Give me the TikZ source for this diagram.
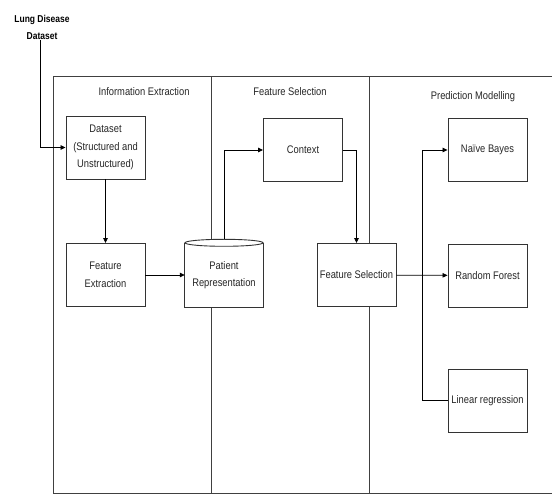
\documentclass[tikz,border=0pt]{standalone}
\usepackage{fontspec}
\setmainfont{Liberation Sans}
\newfontfamily\diagfont[FakeStretch=0.85]{Liberation Sans}
\usetikzlibrary{shapes.geometric,arrows.meta,positioning,calc}

\begin{document}
\begin{tikzpicture}[x=1pt,y=-1pt,
        box/.style={draw=black!80, fill=white, line width=0.9pt,
          minimum width=79pt, minimum height=63pt, inner sep=1pt,
          align=center, text=black!85,
          font=\diagfont\fontsize{11}{17.5}\selectfont},
        store/.style={fill=white, minimum width=78pt, minimum height=64pt,
          inner sep=1pt, align=center, text=black!85,
          font=\diagfont\fontsize{11}{17.5}\selectfont},
        outline/.style={draw=black!80, line width=0.9pt},
        lane/.style={text=black!85, inner sep=1pt,
          font=\diagfont\fontsize{11}{12}\selectfont},
        frame/.style={draw=black!75, line width=1pt},
        arr/.style={-{Triangle[length=5pt,width=4.5pt]}, line width=0.8pt},
        ln/.style={line width=0.8pt}
      ]
        \useasboundingbox (0,0) rectangle (552,494);

        % swim lanes
        \draw[frame] (552,77) -- (53,77) -- (53,493) -- (552,493);
        \draw[frame] (211,77) -- (211,493);
        \draw[frame] (369,77) -- (369,493);
        \node[lane] (laneie) at (144,92) {Information Extraction};
        \node[lane] (lanefs) at (290,92) {Feature Selection};
        \node[lane] (lanepm) at (473,97) {Prediction Modelling};

        % input
        \node[inner sep=1pt, align=center,
          font=\diagfont\fontsize{10}{17}\selectfont\bfseries]
          (lung) at (42,27) {Lung Disease\\Dataset};

        % information extraction
        \node[box] (ds) at (105.5,147.5) {Dataset\\(Structured and\\Unstructured)};
        \node[box] (fe) at (105.5,275) {Feature\\Extraction};
        \node[store] (pr) at (224,275) {Patient\\Representation};
        \draw[outline] (pr.north west) -- (pr.south west) -- (pr.south east)
          -- (pr.north east);
        \draw[outline, fill=white] (pr.north) ellipse [x radius=39, y radius=3.5];
        \coordinate (prtop) at ([yshift=3.5pt]pr.north);

        % feature selection
        \node[box] (ctx) at (303,150) {Context};
        \node[box] (fs) at (356.5,275) {Feature Selection};

        % prediction modelling
        \node[box] (nb) at (487.5,150) {Naïve Bayes};
        \node[box] (rf) at (487.5,275.5) {Random Forest};
        \node[box] (lr) at (487.5,400.5) {Linear regression};

        % connectors
        \draw[arr] ([xshift=-2pt]lung.south) |- (ds.west);
        \draw[arr] (ds) -- (fe);
        \draw[arr] (fe) -- (pr);
        \draw[arr] (prtop) |- (ctx.west);
        \draw[arr] (ctx.east) -| (fs.north);
        \draw[arr] (fs) -- (rf);
        \coordinate (bus) at ($(fs.east)!0.5!(rf.west)$);
        \draw[arr] (bus) |- (nb.west);
        \draw[ln] (bus) |- (lr.west);
      \end{tikzpicture}
\end{document}
